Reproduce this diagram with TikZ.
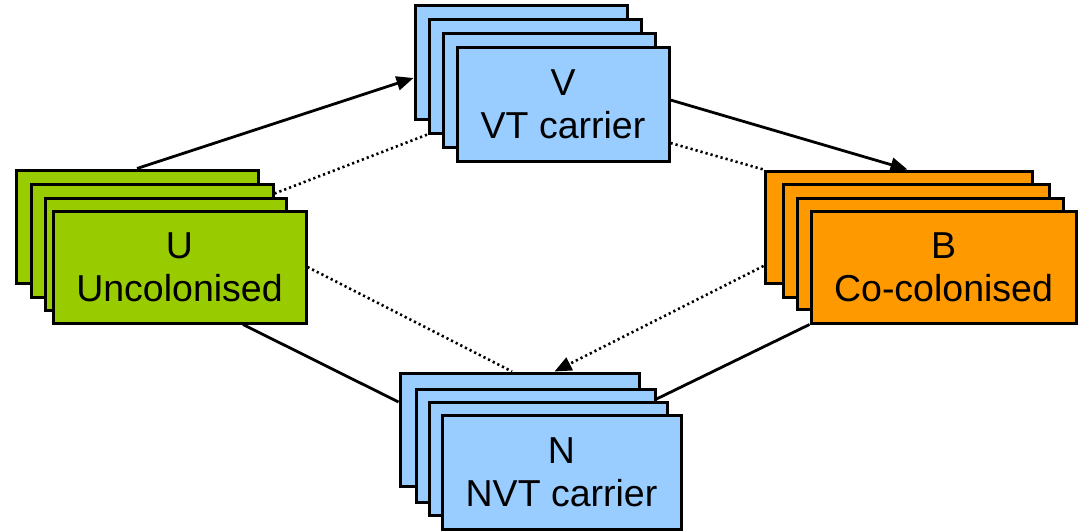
\documentclass[tikz,border=0pt]{standalone}
\usepackage{fontspec}
\setmainfont{Liberation Sans}
\usetikzlibrary{arrows.meta}
\definecolor{cgreen}{HTML}{99CC00}
\definecolor{cblue}{HTML}{99CCFF}
\definecolor{corange}{HTML}{FF9900}
\begin{document}
\begin{tikzpicture}[x=1pt,y=-1pt,
  card/.style={draw=black, line width=3pt, inner sep=0pt, align=center,
    font=\fontsize{37.5}{43}\selectfont},
  link/.style={line width=2.8pt},
  dotlink/.style={line width=2.6pt, dash pattern=on 2.2pt off 3pt},
  tip/.style={-{Triangle[length=17pt,width=14pt]}}]
\useasboundingbox (0,0) rectangle (1084,530);

% V stack
\node[card, fill=cblue, minimum width=212pt, minimum height=114pt] (V1) at (521,62) {};
\node[card, fill=cblue, minimum width=212pt, minimum height=114pt] (V2) at (535,76) {};
\node[card, fill=cblue, minimum width=212pt, minimum height=114pt] (V3) at (549,90) {};
\node[card, fill=cblue, minimum width=212pt, minimum height=114pt] (V4) at (563,104) {V\\VT carrier};

% U stack
\node[card, fill=cgreen, minimum width=242pt, minimum height=113pt] (U1) at (137,226.5) {};
\node[card, fill=cgreen, minimum width=242pt, minimum height=113pt] (U2) at (152,240.5) {};
\node[card, fill=cgreen, minimum width=241pt, minimum height=112pt] (U3) at (165.5,254) {};
\node[card, fill=cgreen, minimum width=253pt, minimum height=112pt] (U4) at (179.5,267) {U\\Uncolonised};

% B stack
\node[card, fill=corange, minimum width=267pt, minimum height=112pt] (B1) at (898.5,227) {};
\node[card, fill=corange, minimum width=266pt, minimum height=113pt] (B2) at (916,240.5) {};
\node[card, fill=corange, minimum width=266pt, minimum height=111pt] (B3) at (930,253.5) {};
\node[card, fill=corange, minimum width=265pt, minimum height=112pt] (B4) at (943.5,267) {B\\Co-colonised};

% N stack
\node[card, fill=cblue, minimum width=239pt, minimum height=113pt] (N1) at (519.5,429.5) {};
\node[card, fill=cblue, minimum width=239pt, minimum height=113pt] (N2) at (535.5,445.5) {};
\node[card, fill=cblue, minimum width=238pt, minimum height=113pt] (N3) at (548,458.5) {};
\node[card, fill=cblue, minimum width=239pt, minimum height=114pt] (N4) at (561.5,472) {N\\NVT carrier};

% connectors
\draw[link,tip] (U1.north) -- ([yshift=-16pt]V1.west);
\draw[link,tip] ([yshift=4pt]V4.east) -- ([xshift=9pt]B1.north);
\draw[dotlink] ([yshift=-11pt]U2.north east) -- (V2.south west);
\draw[dotlink] ([yshift=-39pt]V4.east) -- (B1.north west);
\draw[dotlink] (U4.east) -- ([xshift=-7.5pt]N1.north);
\draw[dotlink,tip] ([yshift=-39pt]B1.west) -- ([xshift=35pt]N1.north);
\draw[link] ([xshift=63.5pt]U4.south) -- ([yshift=27.5pt]N1.west);
\draw[link] (B4.south west) -- ([yshift=46.5pt]N2.east);
\end{tikzpicture}
\end{document}
